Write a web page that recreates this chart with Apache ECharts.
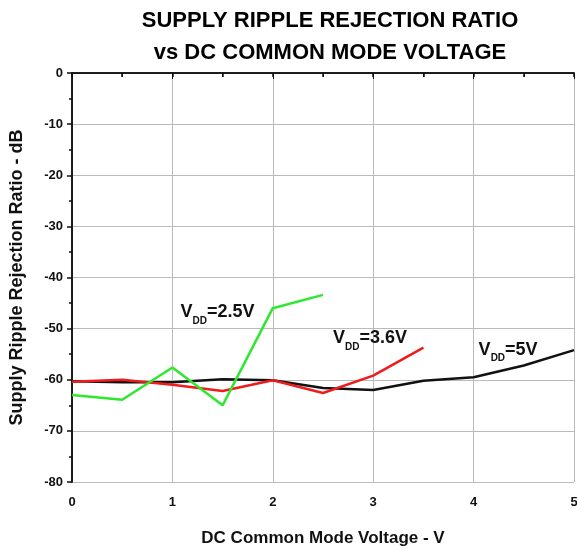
<!DOCTYPE html>
<html>
<head>
<meta charset="utf-8">
<script src="https://cdn.jsdelivr.net/npm/echarts@6/dist/echarts.min.js"></script>
<style>
  html, body { margin: 0; padding: 0; background: #fff; overflow: hidden; }
  #chart { width: 577px; height: 550px; }
</style>
</head>
<body>
<div id="chart"></div>
<script>
  // Spannungen an der x-Achse
  var xVolts = [0, 0.5, 1, 1.5, 2, 2.5, 3, 3.5, 4, 4.5, 5]
  // SRR-Werte in dB, je Versorgungsspannung
  var vdd25 = [-63.0, -63.9, -57.6, -65.0, -46.0, -43.4]
  var vdd36 = [-60.4, -60.0, -61.0, -62.2, -60.1, -62.6, -59.2, -53.7]
  var vdd5 = [-60.3, -60.5, -60.5, -59.9, -60.1, -61.6, -62.0, -60.2, -59.5, -57.2, -54.2]
  var seriesNames = ['2.5V', '3.6V', '5V']
  var seriesColors = ['#2ee82e', '#ee1c1c', '#111111']
  var labelPos = [[1.08, -46.8], [2.6, -51.8], [4.05, -54.1]]

  function pairs (vals) {
    return vals.map(function (v, i) { return [xVolts[i], v] })
  }

  var chart = echarts.init(document.getElementById('chart'))
  var font = 'Liberation Sans, Arial, sans-serif'

  var series = [vdd25, vdd36, vdd5].map(function (vals, i) {
    return {
      name: seriesNames[i],
      type: 'line',
      data: pairs(vals),
      symbol: 'none',
      lineStyle: { color: seriesColors[i], width: 2.5 },
      z: 3 - i + 2,
      markPoint: {
        symbol: 'circle',
        symbolSize: 0,
        data: [{
          coord: labelPos[i],
          label: {
            show: true,
            position: 'right',
            distance: 0,
            formatter: '{v|V}{s|DD}{v|=' + seriesNames[i] + '}',
            rich: {
              v: { fontFamily: font, fontWeight: 'bold', fontSize: 18, color: '#111', verticalAlign: 'bottom' },
              s: { fontFamily: font, fontWeight: 'bold', fontSize: 10, color: '#111', verticalAlign: 'bottom', padding: [0, 0, -5, 0] }
            }
          }
        }]
      }
    }
  })

  chart.setOption({
    animation: false,
    title: {
      text: 'SUPPLY RIPPLE REJECTION RATIO\nvs DC COMMON MODE VOLTAGE',
      left: 325,
      top: 0,
      textAlign: 'center',
      textStyle: { fontFamily: font, fontWeight: 'bold', fontSize: 22, color: '#000', lineHeight: 32 }
    },
    grid: { left: 72, right: 3, top: 73, bottom: 68, outerBoundsMode: 'none' },
    xAxis: [{
      type: 'value',
      min: 0,
      max: 5,
      interval: 1,
      name: 'DC Common Mode Voltage - V',
      nameLocation: 'middle',
      nameGap: 48,
      nameTextStyle: { fontFamily: font, fontWeight: 'bold', fontSize: 17, color: '#111' },
      axisLine: { lineStyle: { color: '#111', width: 1.5 } },
      axisTick: { length: 4, lineStyle: { color: '#111', width: 1.5 } },
      minorTick: { show: true, splitNumber: 2, length: 4, lineStyle: { color: '#111', width: 1.5 } },
      axisLabel: { fontFamily: font, fontWeight: 'bold', fontSize: 13, color: '#111', margin: 14 },
      splitLine: { show: true, lineStyle: { color: '#bbbbbb', width: 1 } }
    }, {
      type: 'value',
      position: 'top',
      min: 0,
      max: 5,
      interval: 1,
      axisLine: { lineStyle: { color: '#111', width: 1.5 } },
      axisTick: { inside: true, length: 6, lineStyle: { color: '#111', width: 1 } },
      minorTick: { show: true, splitNumber: 2, length: 4, lineStyle: { color: '#111', width: 1 } },
      axisLabel: { show: false },
      splitLine: { show: false }
    }],
    yAxis: [{
      type: 'value',
      min: -80,
      max: 0,
      interval: 10,
      name: 'Supply Ripple Rejection Ratio - dB',
      nameLocation: 'middle',
      nameGap: 46,
      nameTextStyle: { fontFamily: font, fontWeight: 'bold', fontSize: 18, color: '#111' },
      axisLine: { lineStyle: { color: '#111', width: 1.5 } },
      axisTick: { length: 5, lineStyle: { color: '#111', width: 1.5 } },
      minorTick: { show: true, splitNumber: 2, length: 3, lineStyle: { color: '#111', width: 1.5 } },
      axisLabel: { fontFamily: font, fontWeight: 'bold', fontSize: 13, color: '#111', margin: 9 },
      splitLine: { show: true, lineStyle: { color: '#bbbbbb', width: 1 } }
    }, {
      type: 'value',
      position: 'right',
      min: -80,
      max: 0,
      interval: 10,
      axisLine: { show: true, lineStyle: { color: '#111', width: 1.5 } },
      axisTick: { show: false },
      axisLabel: { show: false },
      splitLine: { show: false }
    }],
    series: series
  })
</script>
</body>
</html>
